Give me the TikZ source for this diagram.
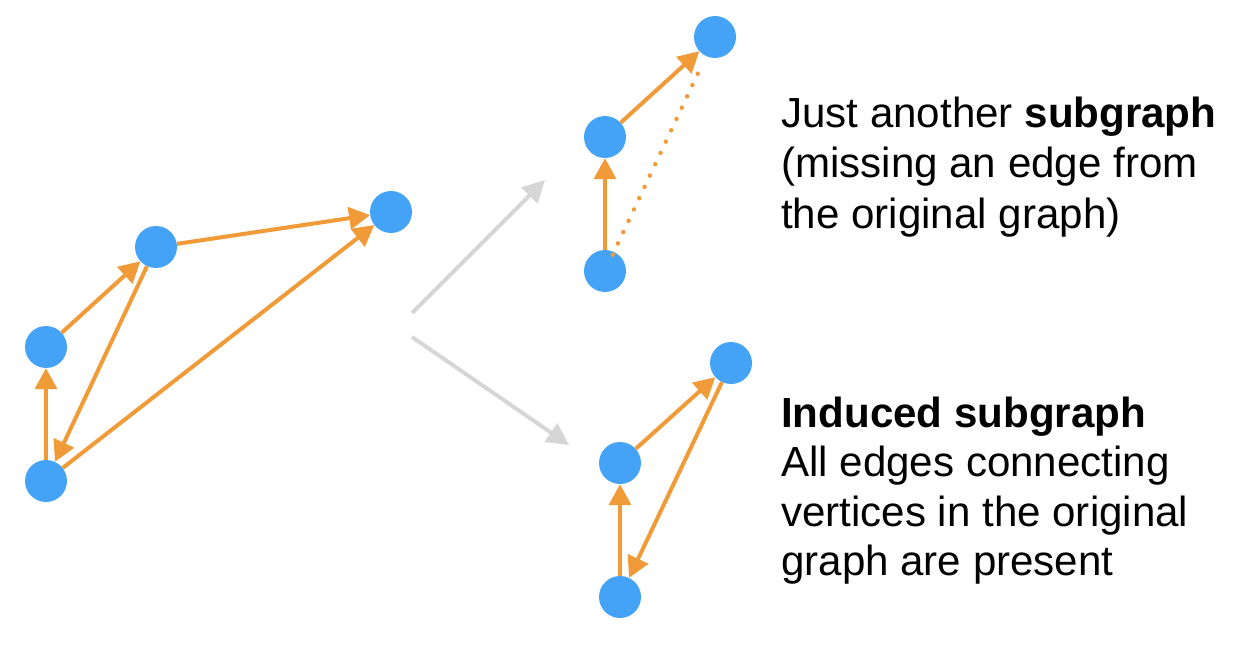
\documentclass[tikz,border=0pt]{standalone}
\usepackage{fontspec}
\setmainfont{Liberation Sans}
\usetikzlibrary{arrows.meta}
\definecolor{nodeblue}{HTML}{45A3F7}
\definecolor{edgeorange}{HTML}{F19A38}
\definecolor{arrowgray}{HTML}{D6D6D6}
\tikzset{
  vertex/.style={circle, fill=nodeblue, draw=none, minimum size=42pt, inner sep=0pt},
  diedge/.style={draw=edgeorange, line width=4pt, -{Triangle[length=21pt,width=22pt]}},
  missing/.style={draw=edgeorange, line width=4.5pt, line cap=round, dash pattern=on 0pt off 12.5pt},
  grayarrow/.style={draw=arrowgray, line width=4pt, -{Triangle[length=22pt,width=22pt]}},
  label/.style={anchor=base west, inner sep=0pt, font=\fontsize{42.1}{50}\selectfont}
}
\begin{document}
\begin{tikzpicture}[x=1pt,y=-1pt]
\useasboundingbox (0,0) rectangle (1256,658);
% left graph
\node[vertex] (A) at (46,481) {};
\node[vertex] (B) at (46,347) {};
\node[vertex] (C) at (156,247) {};
\node[vertex] (D) at (391,212) {};
\draw[diedge] (A) -- (B);
\draw[diedge] (B) -- (C);
\draw[diedge] (C) -- (D);
\draw[diedge] (C) -- (A);
\draw[diedge] (A) -- (D);
% gray arrows
\coordinate (g1s) at (412,313);
\coordinate (g1e) at (545,180);
\coordinate (g2s) at (412,337);
\coordinate (g2e) at (569,445);
\draw[grayarrow] (g1s) -- (g1e);
\draw[grayarrow] (g2s) -- (g2e);
% top right graph
\node[vertex] (E) at (605,271) {};
\node[vertex] (F) at (605,137) {};
\node[vertex] (G) at (715,37) {};
\draw[missing, shorten <=18pt, shorten >=34pt] (E.center) -- (G.center);
\draw[diedge] (E) -- (F);
\draw[diedge] (F) -- (G);
% bottom right graph
\node[vertex] (H) at (620,597) {};
\node[vertex] (I) at (620,463) {};
\node[vertex] (J) at (731,363) {};
\draw[diedge] (H) -- (I);
\draw[diedge] (I) -- (J);
\draw[diedge] (J) -- (H);
% texts
\node[label] (t1) at (781,128) {Just another \textbf{subgraph}};
\node[label] (t2) at (781,178) {(missing an edge from};
\node[label] (t3) at (781,228) {the original graph)};
\node[label] (t4) at (781,427) {\textbf{Induced subgraph}};
\node[label] (t5) at (781,476) {All edges connecting};
\node[label] (t6) at (781,526) {vertices in the original};
\node[label] (t7) at (781,575) {graph are present};
\end{tikzpicture}
\end{document}
